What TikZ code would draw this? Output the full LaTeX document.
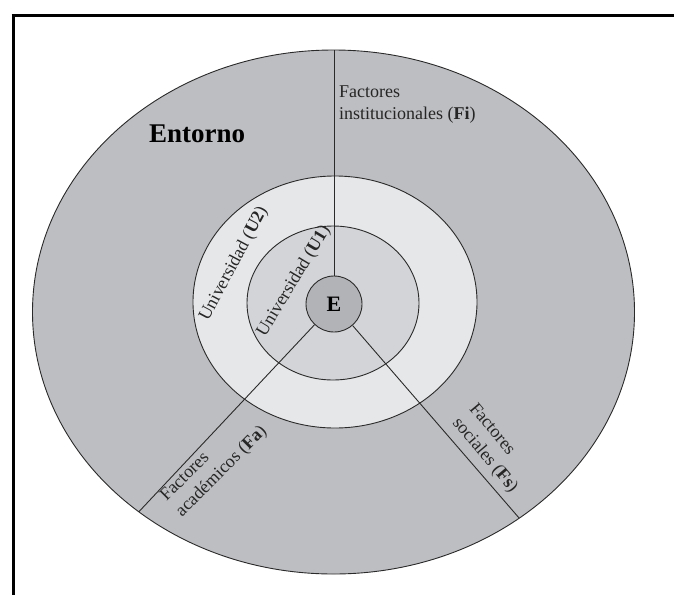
\documentclass[tikz,border=0pt]{standalone}
\usepackage{fontspec}
\setmainfont{Liberation Serif}
\usetikzlibrary{calc}

\definecolor{envgray}{HTML}{BDBEC2}
\definecolor{ringtwo}{HTML}{E6E7E9}
\definecolor{ringone}{HTML}{D3D4D7}
\definecolor{coregray}{HTML}{B2B3B7}
\definecolor{edgeline}{HTML}{2A2A2A}

\tikzset{
  zone/.style={draw=edgeline, line width=0.9pt},
  divider/.style={draw=edgeline, line width=0.9pt},
  label/.style={inner sep=0pt, text=black!85, font=\fontsize{18}{22}\selectfont},
  frameline/.style={line width=3pt, black}
}

\begin{document}
\begin{tikzpicture}[x=1pt, y=-1pt]
  \useasboundingbox (0,0) rectangle (674,595);

  % frame (top and left edges)
  \draw[frameline] (11.5,15.7) -- (674,15.7);
  \draw[frameline] (13,14.2) -- (13,595);

  % surrounding environment
  \coordinate (O) at (333.5,312);
  \fill[envgray, zone] (O) ellipse [x radius=301, y radius=262];

  % university rings
  \fill[ringtwo, zone] (335,302) ellipse [x radius=142, y radius=126];
  \fill[ringone, zone] (333,303) ellipse [x radius=86, y radius=77];

  % student at the centre
  \node[circle, draw=edgeline, line width=0.9pt, fill=coregray, minimum size=56pt,
        inner sep=0pt, font=\fontsize{22}{24}\selectfont\bfseries] (E) at (334,304) {E};

  % ends of the three dividers on the outer ellipse
  \coordinate (fiEnd) at ($(O)+(-90:301 and 262)$);
  \coordinate (faEnd) at ($(O)+(130.3:301 and 262)$);
  \coordinate (fsEnd) at ($(O)+(51.9:301 and 262)$);

  \draw[divider] (E) -- (E.center |- fiEnd);
  \draw[divider] (E) -- (faEnd);
  \draw[divider] (E) -- (fsEnd);

  % labels (base anchor = baseline of the last line)
  \node[inner sep=0pt, anchor=base west, font=\fontsize{27}{30}\selectfont\bfseries]
    (entorno) at (149,142.7) {Entorno};

  \node[label, anchor=base west, align=left] (fi) at (339,119)
    {Factores\\institucionales (\textbf{Fi})};

  \node[label, anchor=base west, rotate=62] (u2) at (208,322)
    {Universidad (\textbf{U2})};
  \node[label, anchor=base west, rotate=59] (u1) at (265,338)
    {Universidad (\textbf{U1})};

  \node[label, anchor=base west, align=left, rotate=45] (fa) at (182,517.5)
    {Factores\\acad\'emicos (\textbf{Fa})};
  \node[label, anchor=base west, align=left, rotate=-50] (fs) at (452,423)
    {Factores\\sociales (\textbf{Fs})};
\end{tikzpicture}
\end{document}
